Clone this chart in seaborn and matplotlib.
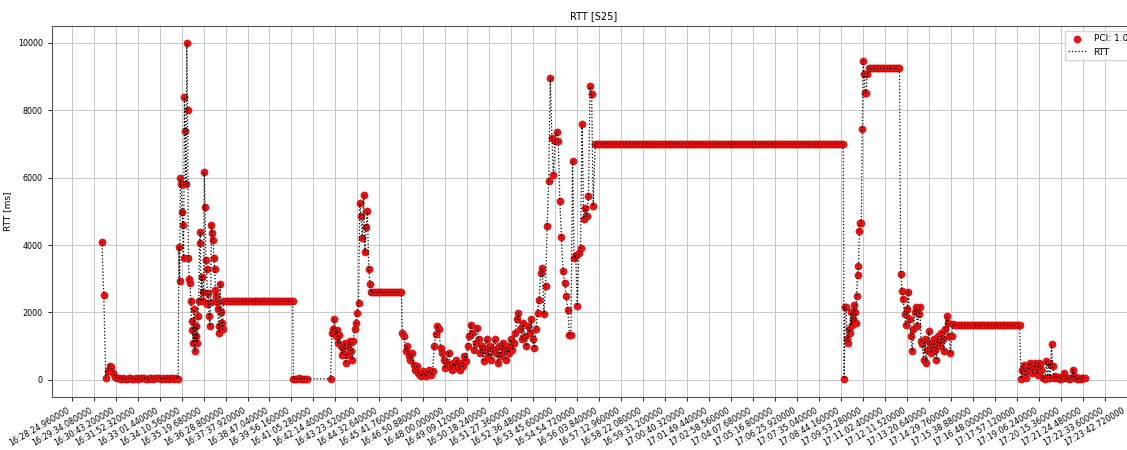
import pandas as pd
import matplotlib
matplotlib.use("Agg")
import matplotlib.pyplot as plt
import matplotlib.dates as mdates
import seaborn as sns

# ── Data ────────────────────────────────────────────────────────────
DAY = "2024-01-01"

# each segment: start clock, sampling step [s], RTT values [ms]
SEG_START = ["16:30:00", "16:34:02", "16:36:30", "16:40:02", "16:41:59",
             "16:44:06", "16:45:45", "16:55:51", "17:08:54", "17:10:12",
             "17:11:52", "17:14:42", "17:18:10"]
SEG_STEP_S = [6, 2.5, 6, 6, 4, 6, 5, 6, 3, 6, 4, 6, 4]

RTT_A = [4100, 2530, 60, 250, 420, 380, 200, 80, 50, 60, 40, 50, 30, 40, 60,
         50, 40, 30, 50, 40, 60, 70, 50, 40, 30, 50, 60, 40, 50, 70, 60, 40,
         50, 30, 50, 40, 60, 50, 40, 50, 40]
RTT_B = [3950, 2930, 5990, 5800, 4970, 4590, 3610, 8390, 7390, 5800, 10000,
         8020, 3610, 3000, 2880, 2330, 1740, 1490, 1100, 2090, 850, 1300, 1600,
         1100, 1900, 2330, 4060, 4400, 2330, 3060, 2600, 2330, 6160, 5130, 3550,
         3300, 2250, 2580, 1890, 1600, 2300, 4590, 4360, 4140, 3610, 3300, 2680,
         2500, 2300, 2100, 1590, 1400, 2850, 2000, 1700, 1500, 2330]
RTT_C = [2330] * 36
RTT_D = [30, 40, 30, 50, 40, 30, 40, 30]
RTT_E = [30, 1400, 1500, 1810, 1310, 1490, 1100, 1340, 1000, 750, 950, 1100,
         500, 750, 1000, 1150, 850, 600, 1150, 1500, 1690, 1990, 2290,
         5250, 4850, 4210, 5480, 3800, 4550, 5000, 3300, 2830]
RTT_F = [2600] * 17
RTT_G = [1390, 1300, 850, 1000, 700, 600, 800, 450, 300, 400, 200, 150, 100,
         250, 150, 120, 200, 300, 150, 250,
         1000, 1350, 1600, 1500, 950, 800,
         600, 350, 500, 800, 400, 300, 500, 350, 600, 450, 300, 500, 400, 700, 550,
         1000, 1300, 1640, 1400, 900, 1100, 1550, 1200, 800, 1000, 550, 900, 1200,
         700, 1000, 600, 900, 1200, 800, 500, 1000, 700, 1100, 900, 600, 1000,
         800, 1200, 900,
         1100, 1400, 1800, 1990, 1500, 1200, 1700, 1300, 1000, 1600, 1400, 1800, 1200,
         950, 1500, 1990, 2380, 3180, 3320, 1940, 2800,
         4560, 5910, 8960, 7180, 6070, 7100,
         7360, 7100, 5300, 4240, 3220, 2880, 2480, 2070,
         1340, 1340, 6490, 3620, 3700, 2200, 3770, 3900,
         7600, 4780, 5100, 4850, 5450, 8710, 8490, 5150]
RTT_H = [7010] * 131
RTT_I = [40, 2170, 2170, 1200, 1100, 1500, 1400, 2000, 1640, 1800, 2230, 2000,
         1700, 2500, 3100, 3370, 4410, 4640, 4640, 7430, 9470, 9080, 8520, 8520, 9080]
RTT_J = [9240] * 17
RTT_K = [3150, 2630, 2400, 1940, 1640, 2100, 2600, 1800, 1300, 850, 1500, 2000,
         2170, 1600, 1940, 2170, 1150, 1050, 600, 1200, 500, 900, 1440, 1100, 800,
         1000, 1200, 900, 600, 1300, 1100, 1000, 1400, 1200, 850, 1500, 1900, 1700,
         1300, 800, 1300, 1650]
RTT_L = [1620] * 35
RTT_M = [40, 300, 450, 200, 60, 400, 300, 500, 450, 200, 350, 500, 300, 150,
         500, 450, 300, 60, 50, 40, 550, 60, 500, 50, 1050, 400, 60, 100, 50, 80,
         60, 40, 50, 60, 200, 80, 50, 60, 40, 50, 60, 300, 100, 50, 40, 60, 50, 40,
         50, 60, 50]

SEGMENTS = [RTT_A, RTT_B, RTT_C, RTT_D, RTT_E, RTT_F, RTT_G, RTT_H, RTT_I,
            RTT_J, RTT_K, RTT_L, RTT_M]

# x ticks: every 69.12 s starting at 16:28:24.96
TICK_START = "16:28:24.960"
TICK_STEP_S = 69.12
N_TICKS = 49

# ── Build table ─────────────────────────────────────────────────────
rows = []
for start, step, vals in zip(SEG_START, SEG_STEP_S, SEGMENTS):
    t0 = pd.Timestamp(f"{DAY} {start}")
    for i, v in enumerate(vals):
        rows.append((t0 + pd.Timedelta(seconds=i * step), v))
df = pd.DataFrame(rows, columns=["Tiempo", "RTT"])

ticks = [pd.Timestamp(f"{DAY} {TICK_START}") + pd.Timedelta(seconds=k * TICK_STEP_S)
         for k in range(N_TICKS)]
tick_labels = [t.strftime("%H:%M:%S.%f") for t in ticks]

# ── Plot ────────────────────────────────────────────────────────────
plt.rcParams["font.family"] = ["DejaVu Sans"]

fig = plt.figure(figsize=(11.27, 4.5), dpi=100)
ax = fig.add_axes([0.0461, 0.1184, 0.9619, 0.8238])

sns.scatterplot(data=df, x="Tiempo", y="RTT", color="#ee1111", s=27,
                edgecolor="#b80000", linewidth=0.3, label="PCI: 1.0",
                ax=ax, zorder=2)
sns.lineplot(data=df, x="Tiempo", y="RTT", color="black", linestyle=":",
             linewidth=0.9, estimator=None, sort=False, label="RTT",
             ax=ax, zorder=3)

tick_nums = mdates.date2num([t.to_pydatetime() for t in ticks])
ax.set_xticks(tick_nums)
ax.set_xticklabels(tick_labels)
step_days = TICK_STEP_S / 86400
ax.set_xlim(tick_nums[0] - 0.896 * step_days, tick_nums[0] + 48.42 * step_days)
ax.set_ylim(-500, 10500)
ax.set_yticks([0, 2000, 4000, 6000, 8000, 10000])

plt.setp(ax.get_xticklabels(), rotation=30, ha="right")
ax.tick_params(axis="both", labelsize=5.8, length=3, width=0.6)
ax.grid(True, color="#c8c8c8", linewidth=0.7)
ax.set_axisbelow(True)
for sp in ax.spines.values():
    sp.set_color("#555555")
    sp.set_linewidth(0.8)

ax.set_title("RTT [S25]", fontsize=7, pad=5)
ax.set_xlabel("Tiempo", fontsize=6.5, labelpad=2)
ax.set_ylabel("RTT [ms]", fontsize=6.5)
ax.legend(loc="upper right", fontsize=6.5, framealpha=0.8)

fig.savefig("out.png", dpi=100)
